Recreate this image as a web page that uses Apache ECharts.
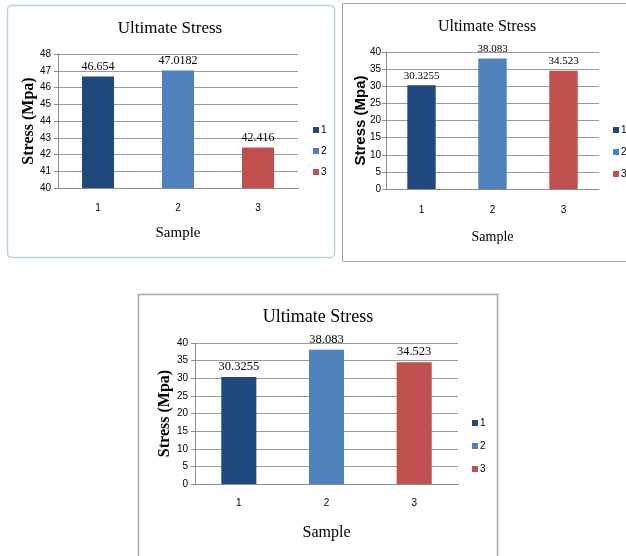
<!DOCTYPE html>
<html>
<head>
<meta charset="utf-8">
<script src="https://cdn.jsdelivr.net/npm/echarts@6/dist/echarts.min.js"></script>
<style>html,body{margin:0;padding:0;background:#fff}#c{width:626px;height:556px}</style>
</head>
<body>
<div id="c"></div>
<script>
// ---- data ----
var categories = ['1', '2', '3'];
var seriesNames = ['1', '2', '3'];
var chart1Values = [46.654, 47.0182, 42.416];
var chart2Values = [30.3255, 38.083, 34.523];
var chart3Values = [30.3255, 38.083, 34.523];
var chart1Axis = {min: 40, max: 48, interval: 1};
var chart2Axis = {min: 0, max: 40, interval: 5};
var chart3Axis = {min: 0, max: 40, interval: 5};
var titleText = 'Ultimate Stress';
var xName = 'Sample';
var yName = 'Stress (Mpa)';

// ---- style ----
var colors = ['#1f497d', '#4f81bd', '#c0504d'];
var SERIF = '"Liberation Serif","Times New Roman",serif';
var NARROW = '"Liberation Sans Narrow","Liberation Sans",Arial,sans-serif';
var SANS = '"Liberation Sans",Arial,sans-serif';

var charts = [
  {values: chart1Values, axis: chart1Axis,
   grid: {left: 58, top: 54, width: 240, height: 134},
   title: {x: 170, y: 20, size: 17}, labelSize: 12, xNameSize: 15, xNameGap: 38, catMargin: 15,
   yNameGap: 21, yNameFont: SERIF, yNameSize: 16, yLabelMargin: 7,
   legend: {left: 313, top: 125, gap: 11}},
  {values: chart2Values, axis: chart2Axis,
   grid: {left: 386, top: 52, width: 213, height: 137},
   title: {x: 487, y: 19, size: 16}, labelSize: 11, xNameSize: 14, xNameGap: 41, catMargin: 16,
   yNameGap: 18, yNameFont: SANS, yNameSize: 15, yLabelMargin: 5,
   legend: {left: 613, top: 125, gap: 12}},
  {values: chart3Values, axis: chart3Axis,
   grid: {left: 195, top: 343, width: 263, height: 141},
   title: {x: 318, y: 308, size: 18}, labelSize: 12.5, xNameSize: 16, xNameGap: 41, catMargin: 14,
   yNameGap: 22, yNameFont: SERIF, yNameSize: 16, yLabelMargin: 7,
   legend: {left: 472, top: 418, gap: 13}}
];

var option = {
  backgroundColor: '#fff',
  animation: false,
  title: [], grid: [], xAxis: [], yAxis: [], series: [], legend: [],
  graphic: [
    {type: 'rect', shape: {x: 7.5, y: 5.5, width: 327, height: 252, r: 4}, style: {fill: 'none', stroke: '#b9d3dc', lineWidth: 1.5}, silent: true},
    {type: 'rect', shape: {x: 342.5, y: 3.5, width: 300, height: 258}, style: {fill: 'none', stroke: '#a6a6a6', lineWidth: 1}, silent: true},
    {type: 'rect', shape: {x: 138.5, y: 294.5, width: 359, height: 290}, style: {fill: 'none', stroke: '#a6a6a6', lineWidth: 1.5}, silent: true}
  ]
};

charts.forEach(function (c, ci) {
  option.title.push({
    text: titleText, left: c.title.x, top: c.title.y, textAlign: 'center', padding: 0,
    textStyle: {fontFamily: SERIF, fontWeight: 'normal', fontSize: c.title.size, color: '#000'}
  });
  option.grid.push(Object.assign({containLabel: false}, c.grid));
  option.xAxis.push({
    type: 'category', gridIndex: ci, data: categories,
    name: xName, nameLocation: 'middle', nameGap: c.xNameGap,
    nameTextStyle: {fontFamily: SERIF, fontSize: c.xNameSize, color: '#000'},
    axisLine: {lineStyle: {color: '#8c8c8c'}},
    axisTick: {show: false},
    axisLabel: {fontFamily: NARROW, fontSize: 10, color: '#000', margin: c.catMargin}
  });
  option.yAxis.push({
    type: 'value', gridIndex: ci, min: c.axis.min, max: c.axis.max, interval: c.axis.interval,
    name: yName, nameLocation: 'middle', nameGap: c.yNameGap, nameMoveOverlap: false,
    nameTextStyle: {fontFamily: c.yNameFont, fontWeight: 'bold', fontSize: c.yNameSize, color: '#000'},
    axisLine: {show: true, lineStyle: {color: '#8c8c8c'}},
    axisTick: {show: true, length: 4, lineStyle: {color: '#8c8c8c'}},
    axisLabel: {fontFamily: NARROW, fontSize: 10, color: '#000', margin: c.yLabelMargin},
    splitLine: {lineStyle: {color: '#9a9a9a', width: 1}}
  });
  seriesNames.forEach(function (nm, si) {
    var d = categories.map(function (cat, k) { return k === si ? c.values[k] : '-'; });
    option.series.push({
      type: 'bar', name: nm, xAxisIndex: ci, yAxisIndex: ci, data: d,
      barWidth: '40%', barGap: '-100%',
      itemStyle: {color: colors[si]},
      label: {show: true, position: 'top', distance: 4, fontFamily: SERIF, fontSize: c.labelSize, color: '#000'}
    });
  });
  option.legend.push({
    data: seriesNames, orient: 'vertical', left: c.legend.left, top: c.legend.top,
    padding: 0, itemGap: c.legend.gap, itemWidth: 6, itemHeight: 6, icon: 'rect',
    textStyle: {fontFamily: NARROW, fontSize: 10, color: '#000', lineHeight: 9, padding: [0, 0, 0, -3]},
    selectedMode: false
  });
});

var chart = echarts.init(document.getElementById('c'), null, {renderer: 'canvas'});
chart.setOption(option);
</script>
</body>
</html>
